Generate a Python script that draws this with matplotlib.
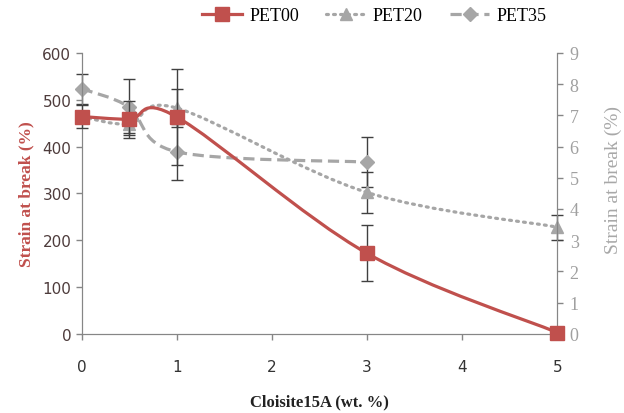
import numpy as np
import matplotlib
matplotlib.use("Agg")
import matplotlib.pyplot as plt
from matplotlib.path import Path
from matplotlib.patches import PathPatch
from matplotlib.lines import Line2D

# data
x00 = [0, 0.5, 1, 3, 5]
pet00 = [464, 458, 463, 172, 3]
pet00_err = [25, 40, 103, 60, 0]

x20 = [0, 0.5, 1, 3, 5]
pet20 = [6.95, 6.72, 7.23, 4.53, 3.42]
pet20_err = [0.2, 0.3, 0.6, 0.65, 0.4]

x35 = [0, 0.5, 1, 3]
pet35 = [7.85, 7.26, 5.83, 5.50]
pet35_err = [0.48, 0.9, 0.9, 0.8]

RED = "#C0504D"
GRAY = "#A6A6A6"
AXIS = "#868686"
SERIF = "Liberation Serif"


def smooth_path(xs, ys):
    # Excel-like smoothed line: cubic bezier segments through the points
    pts = np.column_stack([xs, ys]).astype(float)
    n = len(pts)
    verts = [pts[0]]
    codes = [Path.MOVETO]
    for i in range(n - 1):
        p0 = pts[i - 1] if i > 0 else pts[i]
        p1, p2 = pts[i], pts[i + 1]
        p3 = pts[i + 2] if i + 2 < n else pts[i + 1]
        c1 = p1 + (p2 - p0) / 6.0
        c2 = p2 - (p3 - p1) / 6.0
        verts += [c1, c2, p2]
        codes += [Path.CURVE4] * 3
    return Path(verts, codes)


fig = plt.figure(figsize=(6.24, 4.14), dpi=100)
ax = fig.add_axes([0.131, 0.191, 0.762, 0.679])
ax2 = ax.twinx()

# secondary series
ax2.add_patch(PathPatch(smooth_path(x20, pet20), fill=False, edgecolor=GRAY,
                        lw=2.3, linestyle=(0, (0.6, 1.6)), capstyle="round"))
ax2.add_patch(PathPatch(smooth_path(x35, pet35), fill=False, edgecolor=GRAY,
                        lw=2.3, linestyle=(0, (3.5, 1.8))))
for xs, ys, es, m, ms in [(x20, pet20, pet20_err, "^", 9),
                          (x35, pet35, pet35_err, "D", 7)]:
    eb = ax2.errorbar(xs, ys, yerr=es, fmt=m, color=GRAY, ms=ms,
                      ecolor="#404040", elinewidth=1, capsize=4, capthick=1)
    for art in eb.lines[0:1] + tuple(eb.lines[1]) + tuple(eb.lines[2]):
        art.set_clip_on(False)

# primary series
ax.add_patch(PathPatch(smooth_path(x00, pet00), fill=False, edgecolor=RED,
                       lw=2.3, zorder=3))
eb = ax.errorbar(x00, pet00, yerr=pet00_err, fmt="s", color=RED, ms=10,
                 ecolor="#404040", elinewidth=1, capsize=4, capthick=1,
                 zorder=4)
for art in eb.lines[0:1] + tuple(eb.lines[1]) + tuple(eb.lines[2]):
    art.set_clip_on(False)

ax.set_zorder(ax2.get_zorder() + 1)
ax.patch.set_visible(False)

ax.set_xlim(0, 5)
ax.set_ylim(0, 600)
ax2.set_ylim(0, 9)
ax.set_xticks(range(6))
ax.set_yticks(range(0, 601, 100))
ax2.set_yticks(range(10))

for a in (ax, ax2):
    for s in a.spines.values():
        s.set_color(AXIS)
    a.spines["top"].set_visible(False)
ax.tick_params(axis="both", colors=AXIS, length=4, width=1,
               labelsize=11, labelcolor="#4e3c3c")
ax.tick_params(axis="x", labelcolor="#333333", pad=14)
ax2.tick_params(axis="y", colors=AXIS, length=4, width=1,
                labelsize=13, labelcolor="#A0A0A0", pad=5)
for lab in ax2.get_yticklabels():
    lab.set_family(SERIF)

ax.set_ylabel("Strain at break (%)", color=RED, family=SERIF,
              fontweight="bold", fontsize=12.5, labelpad=6)
ax2.set_ylabel("Strain at break (%)", color="#A8A8A8", family=SERIF,
               fontsize=14, labelpad=6)
ax2.yaxis.set_label_coords(1.1, 0.55)
ax.set_xlabel("Cloisite15A (wt. %)", family=SERIF, fontweight="bold",
              fontsize=12, color="#222222", labelpad=14)

handles = [
    Line2D([], [], color=RED, lw=2.3, marker="s", ms=10),
    Line2D([], [], color=GRAY, lw=2.3, linestyle=(0, (0.6, 1.6)),
           marker="^", ms=9, dash_capstyle="round"),
    Line2D([], [], color=GRAY, lw=2.3, linestyle=(0, (3.5, 1.8)),
           marker="D", ms=7),
]
fig.legend(handles, ["PET00", "PET20", "PET35"], loc="upper center",
           bbox_to_anchor=(0.6, 1.02), ncol=3, frameon=False,
           prop={"family": SERIF, "size": 13}, handlelength=2.2,
           columnspacing=1.5, handletextpad=0.4)

fig.savefig("out.png", dpi=100)
